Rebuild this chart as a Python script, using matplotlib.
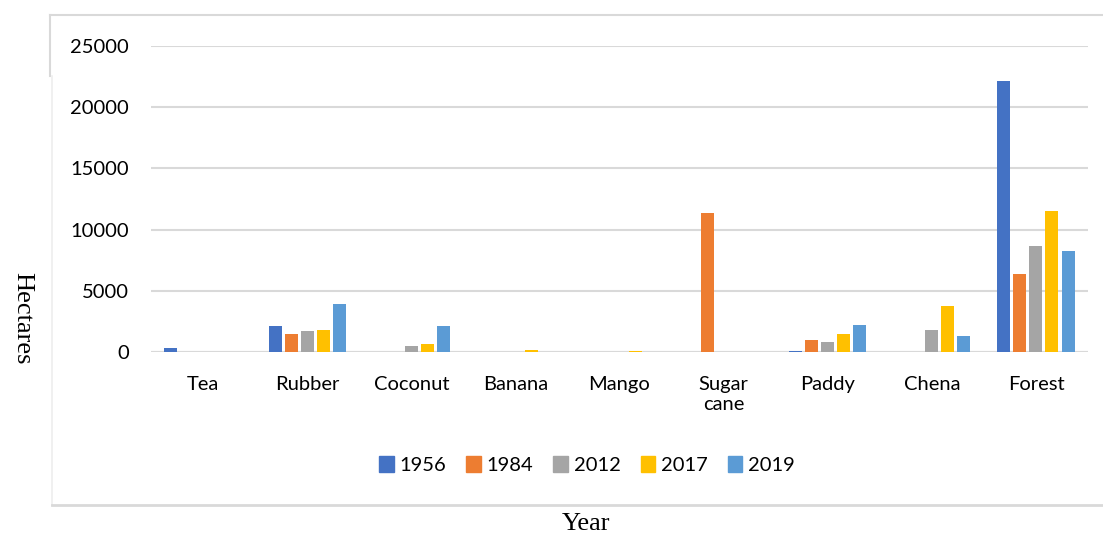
import numpy as np
import matplotlib.pyplot as plt
from matplotlib.patches import Rectangle
from matplotlib.lines import Line2D

crops = ['Tea', 'Rubber', 'Coconut', 'Banana', 'Mango', 'Sugar\ncane', 'Paddy', 'Chena', 'Forest']
years = ['1956', '1984', '2012', '2017', '2019']
v1956 = [300, 2120, 0, 0, 0, 0, 100, 0, 22170]
v1984 = [0, 1470, 0, 0, 0, 11380, 1000, 0, 6400]
v2012 = [0, 1720, 530, 0, 0, 40, 820, 1770, 8630]
v2017 = [0, 1830, 690, 200, 50, 0, 1480, 3770, 11520]
v2019 = [0, 3930, 2140, 0, 0, 0, 2190, 1290, 8240]
colors = ['#4472C4', '#ED7D31', '#A5A5A5', '#FFC000', '#5B9BD5']

W, H = 1103, 534
fig = plt.figure(figsize=(W / 100, H / 100), dpi=100)
ax = fig.add_axes([151 / W, 1 - 352 / H, (1088 - 151) / W, (352 - 46) / H])

x = np.arange(len(crops))
pitch = 0.154
bw = 0.125
series = [v1956, v1984, v2012, v2017, v2019]
for i, (vals, c, yr) in enumerate(zip(series, colors, years)):
    ax.bar(x + (i - 2) * pitch, vals, width=bw, color=c, label=yr, zorder=3)

ax.set_xlim(-0.5, len(crops) - 0.5)
ax.set_ylim(0, 25000)
ax.set_yticks(range(0, 25001, 5000))
ax.grid(axis='y', color='#D9D9D9', linewidth=1.5, zorder=0)
for s in ax.spines.values():
    s.set_visible(False)
ax.axhline(0, color='#D9D9D9', linewidth=1.5, zorder=2)
ax.tick_params(length=0)
ax.tick_params(axis='y', pad=16)
ax.tick_params(axis='x', pad=17)
ax.set_xticks(x)
ax.set_xticklabels(crops, fontsize=14.5, family='Lato', linespacing=1.25, va='top')
for lab in ax.get_yticklabels():
    lab.set_fontsize(14.5)
    lab.set_family('Lato')

handles = [Rectangle((0, 0), 1, 1, color=c) for c in colors]
fig.legend(handles, years, loc='center', bbox_to_anchor=(587 / W, 1 - 465 / H), ncol=5,
           frameon=False, prop={'family': 'Lato', 'size': 14.5},
           handlelength=0.7, handleheight=0.8, handletextpad=0.3, columnspacing=1.0)

fig.text(22 / W, 1 - 318 / H, 'Hectares', rotation=270, ha='center', va='center',
         family='Liberation Serif', fontsize=19)
fig.text(586 / W, 1 - 524 / H, 'Year', ha='center', va='center',
         family='Liberation Serif', fontsize=19)

# chart border
bc = '#D9D9D9'
fig.add_artist(Line2D([50 / W, 1], [1 - 15 / H, 1 - 15 / H], color=bc, linewidth=1.5))
fig.add_artist(Line2D([50 / W, 50 / W], [1 - 15 / H, 1 - 76 / H], color=bc, linewidth=1.5))
fig.add_artist(Line2D([52 / W, 52 / W], [1 - 76 / H, 1 - 505 / H], color='#EEEEEE', linewidth=1.2))
fig.add_artist(Line2D([52 / W, 1], [1 - 505 / H, 1 - 505 / H], color=bc, linewidth=2))

fig.savefig('out.png', dpi=100)
